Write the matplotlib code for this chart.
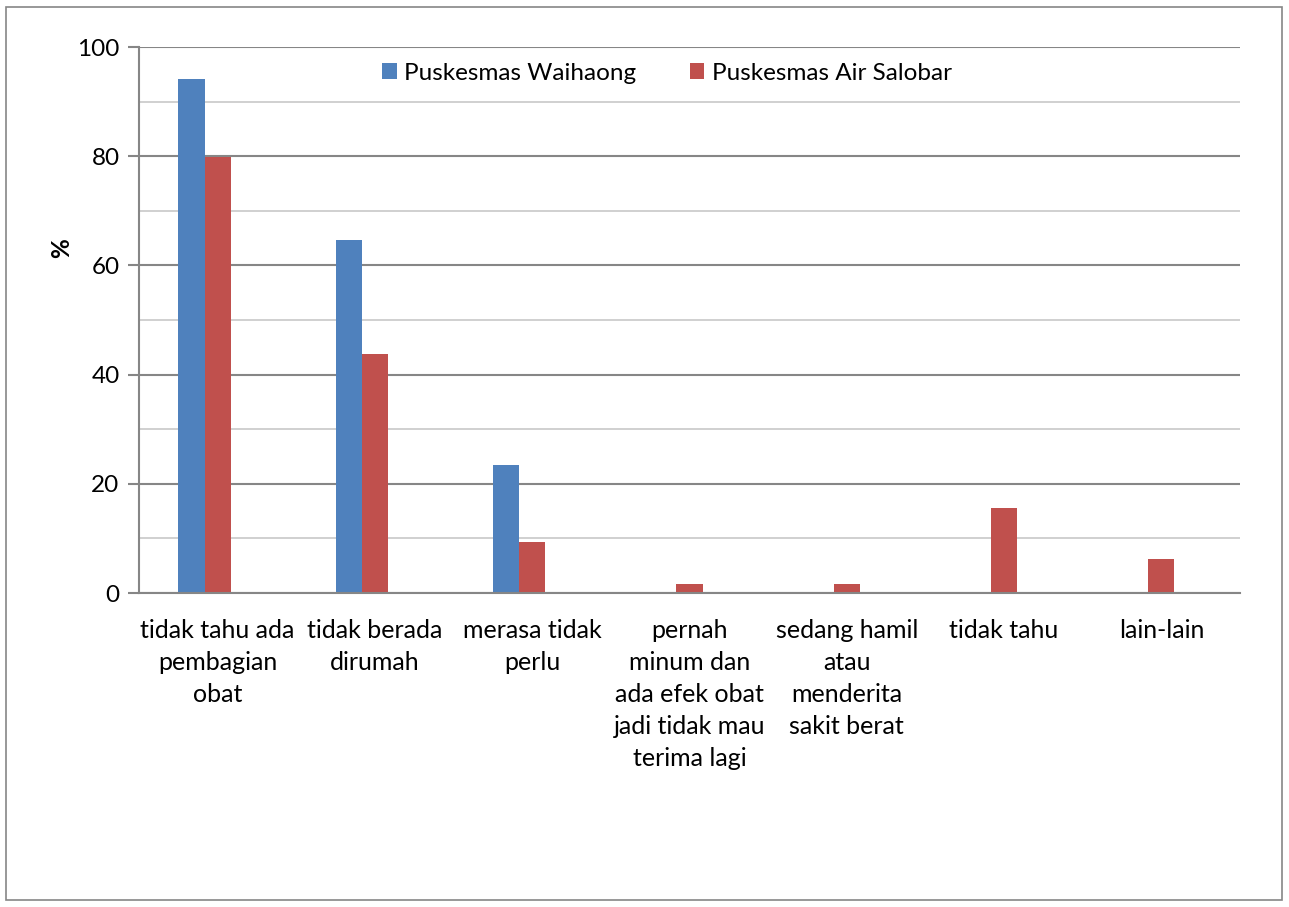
import matplotlib
matplotlib.use("Agg")
import matplotlib.pyplot as plt
import numpy as np
from matplotlib.patches import Rectangle

categories = [
    "tidak tahu ada\npembagian\nobat",
    "tidak berada\ndirumah",
    "merasa tidak\nperlu",
    "pernah\nminum dan\nada efek obat\njadi tidak mau\nterima lagi",
    "sedang hamil\natau\nmenderita\nsakit berat",
    "tidak tahu",
    "lain-lain",
]
series_names = ["Puskesmas Waihaong", "Puskesmas Air Salobar"]
waihaong = [94.1, 64.7, 23.5, 0, 0, 0, 0]
air_salobar = [79.8, 43.7, 9.4, 1.6, 1.6, 15.6, 6.3]
yticks = [0, 20, 40, 60, 80, 100]

plt.rcParams['font.family'] = ['Lato', 'DejaVu Sans']

W, H = 1289, 907
fig = plt.figure(figsize=(W / 100, H / 100), dpi=100)
fig.patch.set_facecolor("white")
fig.patches.append(Rectangle((6 / W, 1 - 900 / H), (1282 - 6) / W, (900 - 7) / H,
                             transform=fig.transFigure, fill=False,
                             edgecolor="#868686", linewidth=1.2))

ax = fig.add_axes([139 / W, 1 - 593 / H, (1240 - 139) / W, (593 - 47) / H])
x = np.arange(len(categories))
# group laid out for three slots (third slot empty), bar width 1/6 of category
bw = 1 / 6
ax.bar(x - bw, waihaong, bw, color="#4F81BD", label=series_names[0], zorder=3)
ax.bar(x, air_salobar, bw, color="#C0504D", label=series_names[1], zorder=3)

ax.set_xlim(-0.5, len(categories) - 0.5)
ax.set_ylim(0, 100)
ax.set_yticks(yticks)
ax.set_yticks(np.arange(10, 100, 20), minor=True)
ax.grid(axis="y", which="major", color="#868686", linewidth=1.5, zorder=0)
ax.grid(axis="y", which="minor", color="#C8C8C8", linewidth=1.2, zorder=0)
ax.set_xticks(x)
ax.set_xticklabels(categories, fontsize=18, linespacing=1.47, va="top")
ax.tick_params(axis="x", length=0, pad=19)
ax.tick_params(axis="y", which="major", length=8, width=1.5, color="#868686",
               labelsize=17.5, pad=6)
ax.tick_params(axis="y", which="minor", length=0)
for s in ["top", "right"]:
    ax.spines[s].set_visible(False)
for s in ["left", "bottom"]:
    ax.spines[s].set_color("#868686")
    ax.spines[s].set_linewidth(1.5)
    ax.spines[s].set_zorder(4)

fig.text(62 / W, 1 - 248 / H, "%", fontsize=17.5, fontweight="bold",
         rotation=90, ha="center", va="center")

leg = ax.legend(loc="center", bbox_to_anchor=((667 - 139) / 1101, (593 - 73) / 546),
                ncol=2, frameon=False,
                fontsize=17.5, handlelength=0.6, handleheight=0.6, handletextpad=0.3,
                columnspacing=2.2)

fig.savefig("out.png", dpi=100)
